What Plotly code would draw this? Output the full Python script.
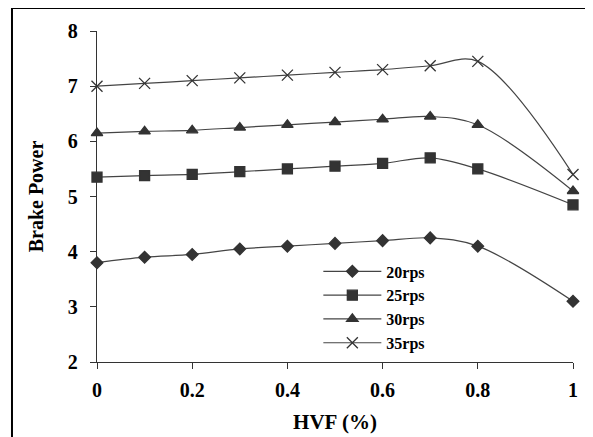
import plotly.graph_objects as go

hvf = [0, 0.1, 0.2, 0.3, 0.4, 0.5, 0.6, 0.7, 0.8, 1.0]
rps20 = [3.8, 3.9, 3.95, 4.05, 4.1, 4.15, 4.2, 4.25, 4.1, 3.1]
rps25 = [5.35, 5.38, 5.4, 5.45, 5.5, 5.55, 5.6, 5.7, 5.5, 4.85]
rps30 = [6.15, 6.18, 6.2, 6.25, 6.3, 6.35, 6.4, 6.45, 6.3, 5.1]
rps35 = [7.0, 7.05, 7.1, 7.15, 7.2, 7.25, 7.3, 7.37, 7.45, 5.4]
names = ["20rps", "25rps", "30rps", "35rps"]
symbols = ["diamond", "square", "triangle-up", "x-thin-open"]
sizes = [9, 10, 10, 11]
series = [rps20, rps25, rps30, rps35]

FONT = "Liberation Serif"
fig = go.Figure()
for n, s, sz, y in zip(names, symbols, sizes, series):
    fig.add_trace(go.Scatter(
        x=hvf, y=y, name=n, mode="lines+markers",
        line=dict(color="#444444", width=1.2, shape="spline", smoothing=1.0),
        marker=dict(symbol=s, size=sz, color="#333333",
                    line=dict(color="#333333", width=1.3)),
        cliponaxis=False,
    ))

fig.update_layout(
    width=593, height=437,
    margin=dict(l=89, r=28, t=23, b=83),
    paper_bgcolor="white", plot_bgcolor="white",
    font=dict(family=FONT, color="black", size=18, weight="bold"),
    showlegend=True,
    legend=dict(x=0.465, y=0.325, xanchor="left", yanchor="top",
                bgcolor="rgba(0,0,0,0)", font=dict(size=16, family=FONT, weight="bold"),
                tracegroupgap=0, itemwidth=58),
    xaxis=dict(range=[0, 1], tickvals=[0, 0.2, 0.4, 0.6, 0.8, 1],
               ticktext=["0", "0.2", "0.4", "0.6", "0.8", "1"],
               showgrid=False, zeroline=False, showline=True, linecolor="#333", linewidth=1.3,
               ticks="outside", ticklen=6, tickcolor="#333", tickwidth=1.3, ticklabelstandoff=4,
               tickfont=dict(size=20, family=FONT, weight="bold"),
               title=dict(text="HVF (%)", font=dict(size=21, family=FONT, weight="bold"), standoff=14)),
    yaxis=dict(range=[2, 8], dtick=1, showgrid=False, zeroline=False, showline=True,
               linecolor="#333", linewidth=1.3, ticks="outside", ticklen=6, tickcolor="#333",
               tickwidth=1.3, ticklabelstandoff=8,
               tickfont=dict(size=20, family=FONT, weight="bold"),
               title=dict(text="Brake Power", font=dict(size=20, family=FONT, weight="bold"), standoff=18)),
)

# outer frame (left and top edges)
fig.add_shape(type="line", xref="paper", yref="paper", x0=-0.1786, x1=-0.1786, y0=1.0695, y1=-0.35,
              line=dict(color="black", width=2))
fig.add_shape(type="line", xref="paper", yref="paper", x0=-0.1786, x1=1.1, y0=1.0695, y1=1.0695,
              line=dict(color="black", width=2))

fig.write_html("out.html")
